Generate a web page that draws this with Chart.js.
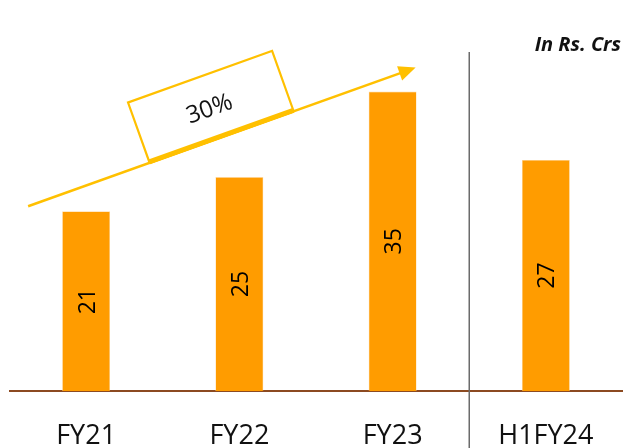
<!DOCTYPE html>
<html>
<head>
<meta charset="utf-8">
<script src="https://cdn.jsdelivr.net/npm/chart.js@4"></script>
<style>
  html, body { margin: 0; padding: 0; background: #fff; }
  #wrap { width: 623px; height: 448px; }
</style>
</head>
<body>
<div id="wrap"><canvas id="revGraph"></canvas></div>
<script>
// ---- data ----
var categories = ["FY21", "FY22", "FY23", "H1FY24"];
var revenue = [21, 25, 35, 27];
var growthLabel = "30%";
var unitLabel = "In Rs. Crs";

var FONT = "'Open Sans', 'Noto Sans', sans-serif";

// draws labels, divider, growth arrow
var extras = {
    id: 'extras',
    afterDatasetsDraw: function(chart){
        var ctx = chart.ctx;
        var x = chart.scales.x, y = chart.scales.y;
        var meta = chart.getDatasetMeta(0);

        // values inside bars, rotated
        ctx.save();
        ctx.fillStyle = '#000';
        ctx.font = '23px ' + FONT;
        ctx.textAlign = 'center';
        ctx.textBaseline = 'middle';
        meta.data.forEach(function(bar, i){
            var cy = (bar.y + bar.base) / 2;
            ctx.save();
            ctx.translate(bar.x + 2, cy);
            ctx.rotate(-Math.PI / 2);
            ctx.fillText(revenue[i], 0, 0);
            ctx.restore();
        });
        ctx.restore();

        // category labels
        ctx.save();
        ctx.fillStyle = '#111';
        ctx.font = '27px ' + FONT;
        ctx.textAlign = 'center';
        ctx.textBaseline = 'middle';
        categories.forEach(function(c, i){
            ctx.fillText(c, x.getPixelForValue(i), chart.chartArea.bottom + 45);
        });
        ctx.restore();

        // divider between full years and half year
        var dx = (x.getPixelForValue(2) + x.getPixelForValue(3)) / 2;
        ctx.save();
        ctx.strokeStyle = '#6b6b6b';
        ctx.lineWidth = 1.5;
        ctx.beginPath();
        ctx.moveTo(dx, 52);
        ctx.lineTo(dx, chart.height);
        ctx.stroke();
        ctx.restore();

        // unit text
        ctx.save();
        ctx.fillStyle = '#111';
        ctx.font = 'italic bold 20px ' + FONT;
        ctx.textAlign = 'right';
        ctx.textBaseline = 'middle';
        ctx.fillText(unitLabel, chart.width - 2, 45);
        ctx.restore();

        // growth arrow
        var x0 = x.getPixelForValue(0) - 58, y0 = y.getPixelForValue(21.6);
        var x1 = x.getPixelForValue(2) + 23, y1 = y.getPixelForValue(37.8);
        var ang = Math.atan2(y1 - y0, x1 - x0);
        var gold = '#ffc000';
        ctx.save();
        ctx.strokeStyle = gold;
        ctx.fillStyle = gold;
        ctx.lineWidth = 2.5;
        ctx.beginPath();
        ctx.moveTo(x0, y0);
        ctx.lineTo(x1 - 14 * Math.cos(ang), y1 - 14 * Math.sin(ang));
        ctx.stroke();
        ctx.translate(x1, y1);
        ctx.rotate(ang);
        ctx.beginPath();
        ctx.moveTo(0, 0);
        ctx.lineTo(-17, -7.5);
        ctx.lineTo(-17, 7.5);
        ctx.closePath();
        ctx.fill();
        ctx.restore();

        // box sitting on the arrow
        ctx.save();
        ctx.translate(x0, y0);
        ctx.rotate(ang);
        var bs = 129, bw = 153, bh = 64;
        ctx.strokeStyle = gold;
        ctx.lineWidth = 2.2;
        ctx.fillStyle = '#fff';
        ctx.fillRect(bs, -bh, bw, bh);
        ctx.strokeRect(bs, -bh, bw, bh);
        ctx.lineWidth = 5;
        ctx.beginPath();
        ctx.moveTo(bs, -1);
        ctx.lineTo(bs + bw, -1);
        ctx.stroke();
        ctx.fillStyle = '#111';
        ctx.font = '24px ' + FONT;
        ctx.textAlign = 'center';
        ctx.textBaseline = 'middle';
        ctx.fillText(growthLabel, bs + bw / 2 - 2, -bh / 2 + 2);
        ctx.restore();
    }
};

var rev = new Chart(document.getElementById('revGraph'),
{
    type: 'bar',
    data : {
        labels : categories,
        datasets : [{
            label: "Revenue",
            data : revenue,
            backgroundColor : '#ff9c00',
            borderColor : '#ffd9a0',
            borderWidth : 0.6,
            barPercentage : 0.313,
            categoryPercentage : 1
        }]
    },
    options: {
        responsive: true,
        maintainAspectRatio: false,
        animation: false,
        layout: { padding: { left: 9.5, right: 0.5, top: 6, bottom: 49 } },
        plugins: {
            legend: { display: false },
            tooltip: { enabled: false }
        },
        scales: {
            x: {
                grid: { display: false },
                ticks: { display: false },
                border: { display: true, color: '#8c4a21', width: 2 }
            },
            y: {
                min: 0,
                max: 45,
                display: false
            }
        }
    },
    plugins: [extras]
});
</script>
</body>
</html>
